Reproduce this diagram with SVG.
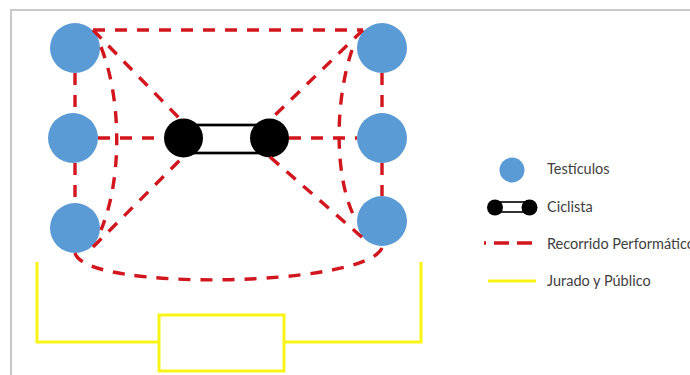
<svg xmlns="http://www.w3.org/2000/svg" width="690" height="375" viewBox="0 0 690 375">
  <style>
    .testiculo { fill: #5b9bd5; }
    .rueda { fill: #000000; }
    .cuadro { fill: #ffffff; stroke: #000000; stroke-width: 2.7; }
    .recorrido { fill: none; stroke: #d2161e; stroke-width: 3.4; stroke-dasharray: 12 10; }
    .jurado { fill: none; stroke: #f8f516; stroke-width: 3; }
    .leyenda { font-family: Lato, "Liberation Sans", sans-serif; font-size: 14.5px; fill: #404040; }
  </style>

  <!-- frame -->
  <path d="M11,375 V10 H690" fill="none" stroke="#c8c8c8" stroke-width="2"/>

  <!-- testicles -->
  <g id="testiculo-1"><circle class="testiculo" cx="75" cy="48" r="25"/></g>
  <g id="testiculo-2"><circle class="testiculo" cx="73" cy="138" r="25"/></g>
  <g id="testiculo-3"><circle class="testiculo" cx="75" cy="228" r="25"/></g>
  <g id="testiculo-4"><circle class="testiculo" cx="382" cy="48" r="25"/></g>
  <g id="testiculo-5"><circle class="testiculo" cx="382" cy="138" r="25"/></g>
  <g id="testiculo-6"><circle class="testiculo" cx="382" cy="221" r="25"/></g>

  <!-- cyclist -->
  <g id="ciclista">
    <rect class="cuadro" x="183.5" y="125" width="86" height="28"/>
    <circle class="rueda" cx="183.5" cy="138" r="19.5"/>
    <circle class="rueda" cx="269.5" cy="138" r="19.5"/>
  </g>

  <!-- performance route -->
  <g id="recorrido">
    <path class="recorrido" d="M93,30 H363"/>
    <path class="recorrido" d="M93,30 L181,120"/>
    <path class="recorrido" d="M101,47 C122,100 122,180 101,230"/>
    <path class="recorrido" d="M75,73 V113"/>
    <path class="recorrido" d="M75,163 V203"/>
    <path class="recorrido" d="M98,138 H164"/>
    <path class="recorrido" d="M93,247 L183,157"/>
    <path class="recorrido" d="M363,30 L270,120"/>
    <path class="recorrido" d="M352,50 C335,100 333,180 357,222"/>
    <path class="recorrido" d="M382,73 V113"/>
    <path class="recorrido" d="M382,163 V196"/>
    <path class="recorrido" d="M289,138 H357"/>
    <path class="recorrido" d="M270,157 L364,239"/>
    <path class="recorrido" d="M75,253 C85,292 365,287 382,248"/>
  </g>

  <!-- jury and audience -->
  <g id="jurado">
    <path class="jurado" d="M37,262 V342 H159"/>
    <rect class="jurado" x="159" y="315" width="125" height="56"/>
    <path class="jurado" d="M284,342 H421 V262"/>
  </g>

  <!-- legend -->
  <g id="leyenda">
    <circle class="testiculo" cx="512" cy="170" r="12.5"/>
    <text class="leyenda" x="547" y="174">Testículos</text>

    <rect x="495" y="202" width="34.5" height="10" fill="#ffffff" stroke="#000000" stroke-width="1.6"/>
    <circle class="rueda" cx="495" cy="207.5" r="8"/>
    <circle class="rueda" cx="529.5" cy="207.5" r="8"/>
    <text class="leyenda" x="547" y="212">Ciclista</text>

    <path d="M484,243 H533" fill="none" stroke="#d2161e" stroke-width="3.4" stroke-dasharray="15 8" stroke-dashoffset="13"/>
    <text class="leyenda" x="547" y="249">Recorrido Performático</text>

    <path d="M488,281 H536" class="jurado"/>
    <text class="leyenda" x="547" y="286">Jurado y Público</text>
  </g>
</svg>
